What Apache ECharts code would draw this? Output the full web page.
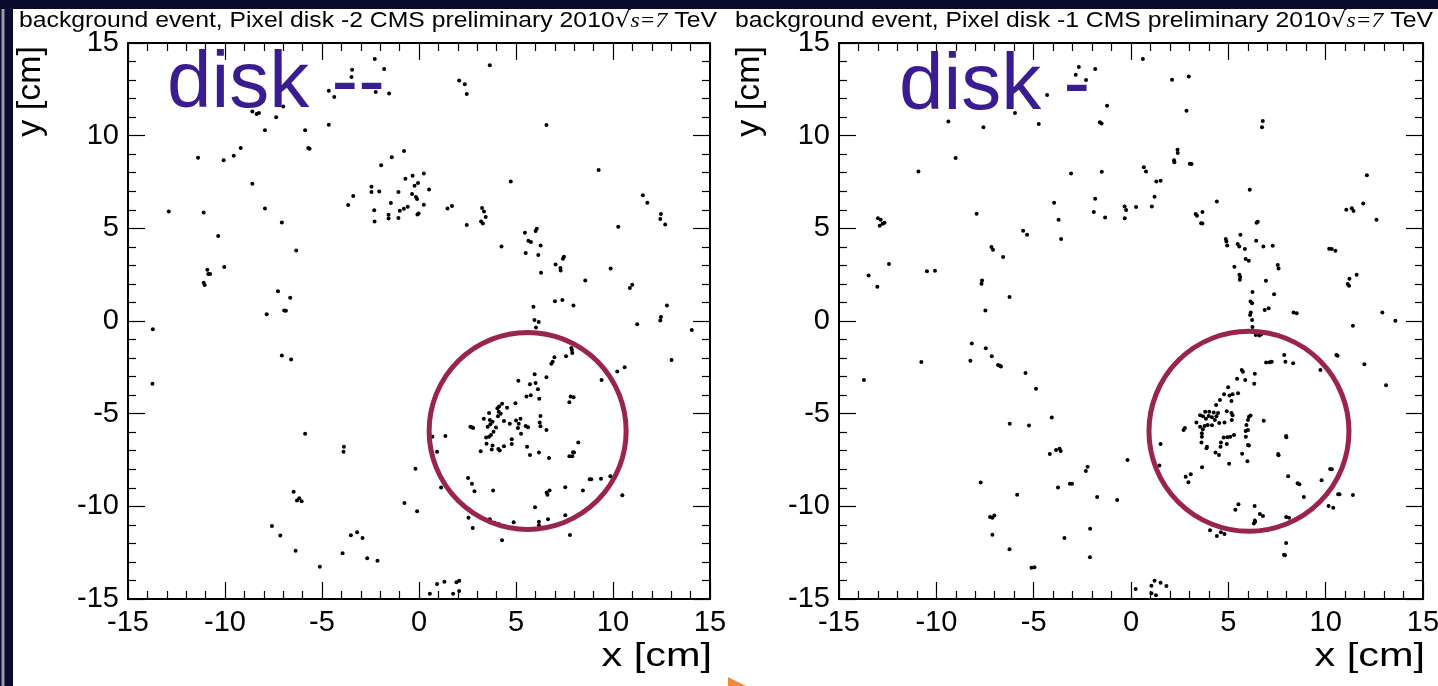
<!DOCTYPE html>
<html>
<head>
<meta charset="utf-8">
<title>Pixel disk background events</title>
<script src="https://cdn.jsdelivr.net/npm/echarts@6/dist/echarts.min.js"></script>
<style>
  html, body { margin: 0; padding: 0; background: #fff; }
  #chart { width: 1438px; height: 686px; }
</style>
</head>
<body>
<div id="chart"></div>
<script>
// hit positions [x, y] in cm
const diskM2Hits = [
  [-2.28,14.14],[-3.45,13.56],[-3.48,13.17],[-1.80,13.60],[-4.65,12.43],[-4.37,12.09],[-2.23,12.36],[-1.54,12.27],
  [-7.00,11.58],[-8.59,11.31],[-8.37,11.17],[-8.25,11.22],[-7.36,10.99],[-7.94,10.29],[-5.87,10.29],[-4.65,10.59],
  [-5.71,9.34],[-5.64,9.30],[-9.19,9.34],[-9.55,8.92],[-10.07,8.67],[-11.39,8.81],[-0.77,9.17],[-1.40,8.83],
  [-1.95,8.40],[-8.59,7.41],[-0.70,7.68],[-0.33,7.84],[-0.05,7.45],[-0.23,7.30],[-2.45,7.25],[-2.45,6.96],
  [-2.05,6.99],[-1.06,6.96],[-3.39,6.74],[-3.65,6.26],[-0.36,6.85],[-0.16,6.69],[-0.10,6.58],[-1.45,6.37],
  [-0.99,5.95],[-0.78,6.06],[-0.58,6.17],[-0.08,5.75],[-0.02,5.80],[-2.31,5.97],[-2.29,5.37],[-1.57,5.73],
  [-1.57,5.53],[-1.06,5.56],[-12.90,5.91],[-11.10,5.86],[-7.94,6.07],[-7.07,5.32],[-10.35,4.58],[-6.33,3.81],
  [-10.04,2.91],[-10.91,2.76],[-10.86,2.53],[-10.77,2.53],[-11.10,2.06],[-11.05,1.94],[-7.27,1.61],[-6.64,1.25],
  [-7.85,0.37],[-6.95,0.57],[-6.86,0.55],[-13.72,-0.44],
  [3.65,13.80],[2.07,12.97],[2.36,12.77],[2.46,12.25],[6.57,10.58],[0.25,7.96],[0.52,7.10],[0.25,6.27],
  [9.26,8.15],[4.73,7.53],[1.47,6.07],[1.70,6.20],[3.25,6.10],[3.35,5.91],[3.44,5.61],[3.20,5.37],
  [3.29,5.26],[2.46,5.18],[11.54,6.78],[11.77,6.38],[12.47,5.77],[12.44,5.50],[12.69,5.21],[10.27,5.09],
  [6.07,4.98],[6.01,4.85],[5.46,4.76],[5.64,4.33],[5.77,4.26],[6.27,4.08],[5.50,3.67],[6.15,3.56],
  [4.25,4.02],[7.47,3.47],[7.42,3.36],[7.04,3.05],[7.29,2.86],[7.30,2.73],[6.29,2.60],[9.88,2.83],
  [8.57,2.19],[10.99,1.95],[10.87,1.78],[12.78,0.84],[5.90,0.77],[7.01,1.07],[7.39,1.13],[7.96,0.84],
  [12.47,0.21],[12.44,0.03],[11.25,-0.17],[14.06,-0.49],[5.95,0.06],[6.17,-0.06],[6.03,-0.35],
  [-7.07,-1.86],[-6.59,-2.08],[-13.74,-3.38],[-5.87,-6.09],[-3.87,-6.78],[-3.89,-7.06],[-0.18,-7.97],[-6.46,-9.21],
  [-6.17,-9.56],[-6.29,-9.69],[-6.05,-9.72],[-0.75,-9.82],[-0.10,-10.27],[-7.58,-11.06],[-7.15,-11.58],[-3.51,-11.56],
  [-3.19,-11.40],[-2.91,-11.71],[-6.36,-12.39],[-3.94,-12.53],[-2.67,-12.80],[-2.14,-12.93],[-5.11,-13.26],
  [0.93,-14.19],[1.31,-14.07],[1.93,-14.10],[2.07,-14.01],[0.56,-14.72],[1.76,-14.72],[2.07,-14.57],
  [13.02,-2.10],[7.85,-1.46],[7.88,-1.56],[7.90,-1.73],[7.58,-1.90],[6.98,-1.95],[6.89,-2.20],[6.82,-2.30],
  [10.60,-2.49],[10.22,-2.73],[6.57,-3.03],[9.41,-3.19],[5.96,-2.87],[6.01,-3.35],[5.72,-3.41],[6.13,-3.68],
  [5.12,-3.23],[5.54,-4.08],[5.76,-4.00],[6.20,-4.19],[7.82,-4.08],[7.97,-4.11],[7.75,-4.38],[4.97,-4.44],
  [4.28,-4.47],[4.13,-4.62],[4.04,-4.71],[4.54,-4.68],[4.11,-4.89],[4.21,-5.01],[4.07,-5.14],[3.61,-4.97],
  [3.34,-5.27],[3.65,-5.34],[3.79,-5.43],[3.68,-5.57],[3.54,-5.70],[3.97,-5.75],[3.84,-5.97],[3.61,-6.24],
  [3.46,-6.29],[3.71,-6.15],[4.38,-5.39],[4.68,-5.55],[5.00,-5.37],[5.23,-5.28],[5.10,-5.78],[5.14,-5.55],
  [5.50,-5.66],[5.62,-5.73],[5.26,-6.09],[4.78,-6.38],[4.78,-6.63],[4.38,-6.76],[4.09,-6.90],[4.16,-6.99],
  [3.79,-6.72],[3.75,-6.94],[3.48,-6.62],[3.18,-7.03],[2.73,-5.73],[2.65,-5.70],[2.79,-5.77],
  [1.36,-6.20],[0.69,-6.25],[0.93,-7.05],[6.26,-5.12],[6.22,-5.48],[6.26,-5.68],[6.57,-5.88],[8.21,-6.56],
  [7.94,-7.08],[7.99,-7.10],[7.90,-7.30],[7.75,-7.30],[6.18,-7.10],[6.70,-7.39],[5.57,-6.78],[5.72,-7.23],
  [2.53,-8.47],[2.73,-8.78],[2.86,-9.19],[1.14,-8.99],[3.82,-9.15],[6.58,-9.26],[6.62,-9.37],[6.73,-9.15],
  [7.54,-8.97],[8.45,-9.15],[8.80,-8.54],[8.88,-8.54],[9.38,-8.51],[9.86,-8.38],[10.48,-9.40],[5.98,-10.05],
  [7.54,-10.48],[6.65,-10.70],[6.18,-10.83],[6.18,-11.02],[4.88,-10.86],[3.65,-10.70],[3.90,-10.88],[4.12,-10.97],
  [2.55,-10.61],[2.77,-11.17],[4.28,-11.83],[7.78,-11.55]
];

const diskM1Hits = [
  [-2.68,13.71],[-2.84,13.29],[-2.31,13.01],[-1.84,13.60],[-4.31,12.20],[-1.23,11.62],[-5.96,11.22],[-9.38,10.76],
  [-7.58,10.45],[-4.74,10.63],[-1.60,10.72],[-1.51,10.65],[-9.01,8.80],[-10.92,8.07],[-3.08,7.96],[-1.50,8.05],
  [-3.95,6.38],[-1.84,6.60],[-1.91,5.88],[-1.33,5.59],[-0.33,6.18],[-0.25,5.99],[-0.32,5.55],[-3.72,5.46],
  [-3.59,4.42],[-7.93,5.79],[-5.54,4.87],[-5.34,4.65],[-13.00,5.55],[-12.86,5.46],[-12.76,5.25],[-12.66,5.30],
  [-12.91,5.14],[-7.17,3.99],[-7.09,3.84],[-6.57,3.45],[-12.43,3.07],[-13.48,2.46],[-13.03,1.85],[-10.48,2.69],
  [-10.07,2.71],[-7.65,2.19],[-7.68,2.01],[-6.24,1.29],[-7.48,0.57],
  [0.61,14.14],[2.11,13.02],[2.97,13.19],[2.85,11.35],[6.77,10.79],[6.73,10.45],[2.39,9.24],[2.40,9.06],
  [2.21,8.67],[2.23,8.56],[3.02,8.49],[3.11,8.47],[0.66,8.29],[0.77,8.06],[1.30,7.53],[1.52,7.57],
  [1.21,6.71],[0.26,6.15],[1.07,6.18],[4.41,6.45],[6.10,7.08],[3.32,5.77],[3.39,5.68],[3.67,5.88],
  [3.60,5.28],[3.67,5.26],[6.45,5.30],[6.51,5.36],[5.62,4.65],[4.87,4.42],[4.90,4.29],[4.94,4.08],
  [5.48,4.15],[5.56,4.02],[5.85,3.88],[6.43,4.33],[6.80,4.02],[7.28,4.06],[5.89,3.34],[6.05,3.25],
  [5.31,2.93],[7.54,3.02],[7.58,2.83],[5.57,2.49],[5.61,2.37],[5.59,2.22],[6.93,2.17],[6.24,1.56],
  [7.35,1.45],[6.14,1.05],[6.22,0.96],[6.87,0.60],[7.07,0.69],[6.15,0.46],[6.12,0.32],[6.22,0.06],
  [6.24,-0.33],[6.41,-0.75],[6.59,-0.78],[6.68,-0.73],[8.35,0.46],[8.51,0.42],[10.18,3.90],[10.31,3.88],
  [10.50,3.79],[11.06,6.00],[11.34,6.09],[11.43,5.93],[11.93,6.34],[12.61,5.46],[12.12,7.86],[11.22,2.28],
  [11.13,1.99],[11.20,1.90],[11.59,2.49],[12.91,0.46],[13.58,0.01],[11.40,-0.26],
  [-13.72,-3.18],[-10.77,-2.21],[-8.18,-1.22],[-8.25,-2.15],[-7.46,-1.47],[-7.15,-1.90],[-6.83,-2.37],[-6.74,-2.42],
  [-6.68,-2.46],[-5.42,-2.80],[-4.88,-3.65],[-4.07,-5.21],[-6.23,-5.55],[-5.24,-5.64],[-4.17,-7.17],[-3.85,-6.96],
  [-3.67,-6.89],[-3.61,-7.01],[-2.23,-7.86],[-2.32,-8.09],[-0.18,-7.50],[-3.14,-8.78],[-3.03,-8.78],[-3.75,-8.99],
  [-7.72,-8.72],[-5.85,-9.37],[-1.74,-9.49],[-0.71,-9.66],[-7.24,-10.58],[-7.12,-10.61],[-7.02,-10.50],[-7.12,-11.53],
  [-2.10,-11.21],[-3.42,-11.71],[-6.24,-12.32],[-2.11,-12.75],[-5.11,-13.31],[-4.96,-13.29],
  [1.21,-14.01],[1.52,-14.12],[1.82,-14.30],[1.05,-14.28],[0.24,-14.46],[1.05,-14.69],[1.28,-14.80],
  [10.55,-1.84],[10.61,-1.88],[11.99,-2.33],[13.10,-3.46],[7.87,-1.84],[7.93,-2.20],[8.33,-2.28],[6.94,-2.24],
  [7.12,-2.22],[7.23,-2.20],[9.73,-2.64],[5.69,-2.64],[5.75,-2.74],[6.36,-2.85],[5.45,-3.11],[5.87,-3.18],
  [6.33,-3.38],[4.99,-3.57],[4.78,-3.95],[5.22,-3.95],[5.06,-4.02],[5.50,-3.90],[4.57,-4.26],[4.37,-4.53],
  [5.16,-4.31],
  [3.81,-4.89],[4.02,-4.89],[4.25,-4.94],[4.47,-4.97],[3.55,-5.08],[3.70,-5.14],[3.99,-5.12],[4.16,-5.19],
  [4.39,-5.14],[3.85,-5.28],[4.31,-5.34],[3.36,-5.48],[3.55,-5.70],[3.78,-5.66],[3.69,-5.84],[3.94,-5.61],
  [4.16,-5.62],[4.53,-5.51],[4.80,-5.48],[4.92,-4.87],[5.16,-4.97],[5.22,-5.08],[2.77,-5.78],[2.70,-5.88],
  [3.64,-6.05],[3.64,-6.24],[3.62,-6.56],[3.90,-6.78],[3.88,-6.86],[4.34,-7.10],[4.52,-7.23],[4.62,-6.56],
  [4.76,-6.29],[4.95,-6.27],[4.92,-6.63],[4.60,-6.78],[5.10,-6.24],[5.29,-6.15],[5.18,-5.34],[3.65,-7.89],
  [2.81,-8.40],[3.07,-8.27],[2.95,-8.70],
  [6.06,-5.16],[6.14,-5.10],[6.01,-5.34],[5.93,-5.61],[5.89,-5.93],[6.01,-5.88],[5.90,-6.24],[6.01,-6.69],
  [6.06,-6.72],[5.71,-7.16],[5.98,-7.57],[5.04,-7.70],[6.82,-5.38],[7.97,-6.20],[7.98,-6.27],[7.56,-7.17],
  [7.58,-7.24],[1.52,-6.63],[1.46,-7.80],[10.23,-7.98],[10.32,-8.00],[9.79,-8.59],[8.07,-8.38],[8.56,-8.75],
  [8.65,-8.81],[8.88,-9.49],[10.64,-9.35],[10.71,-9.35],[11.40,-9.39],[10.15,-9.98],[10.39,-10.07],[5.52,-9.89],
  [5.36,-10.18],[6.35,-9.98],[6.62,-10.41],[6.78,-10.52],[6.36,-10.77],[6.31,-10.92],[6.38,-10.83],[7.97,-10.57],
  [8.12,-10.61],[4.06,-11.29],[4.62,-11.40],[4.80,-11.49],[4.41,-11.60],[7.97,-11.98],[7.86,-12.61],[7.91,-12.64]
];

// centre of the highlighted region, cm
const diskM2Ring = [[5.6, -5.93]];
const diskM1Ring = [[6.06, -5.95]];

const axisMin = -15;
const axisMax = 15;
const tickStep = 5;

const panelTitles = [
  'background event, Pixel disk -2 CMS preliminary 2010',
  'background event, Pixel disk -1 CMS preliminary 2010'
];
const diskLabels = ['disk --', 'disk -'];

const FONT = '"Liberation Sans", Arial, Helvetica, sans-serif';
const NAVY = '#0b0b30';
const RING = '#9b2350';
const LABEL_PURPLE = '#3a1c90';

const chart = echarts.init(document.getElementById('chart'), null, { renderer: 'canvas' });

const grids = [
  { left: 128, top: 43, width: 582, height: 556 },
  { left: 839, top: 43, width: 584, height: 556 }
];

function axis(gridIndex, position, withLabels) {
  return {
    type: 'value',
    gridIndex,
    position,
    min: axisMin,
    max: axisMax,
    interval: tickStep,
    axisLine: { show: true, onZero: false, lineStyle: { color: '#000', width: 2 } },
    axisTick: { show: true, inside: true, length: 17, lineStyle: { color: '#000', width: 1.2 } },
    minorTick: { show: true, splitNumber: 5, length: 8, lineStyle: { color: '#000', width: 1.2 } },
    splitLine: { show: false },
    axisLabel: {
      show: withLabels,
      showMinLabel: true,
      showMaxLabel: true,
      fontSize: 29,
      fontFamily: FONT,
      color: '#000',
      margin: 9
    }
  };
}

const xAxes = [];
const yAxes = [];
grids.forEach((g, i) => {
  xAxes.push(axis(i, 'bottom', true), axis(i, 'top', false));
  yAxes.push(axis(i, 'left', true), axis(i, 'right', false));
});

function hits(data, i) {
  return {
    type: 'scatter',
    xAxisIndex: i * 2,
    yAxisIndex: i * 2,
    data,
    symbol: 'circle',
    symbolSize: 4,
    itemStyle: { color: '#000', opacity: 1 },
    silent: true,
    z: 2
  };
}

function ring(data, i, size) {
  return {
    type: 'scatter',
    xAxisIndex: i * 2,
    yAxisIndex: i * 2,
    data,
    symbol: 'circle',
    symbolSize: size,
    itemStyle: { color: 'rgba(0,0,0,0)', borderColor: RING, borderWidth: 5, opacity: 1 },
    silent: true,
    z: 3
  };
}

function titleText(text, x, y) {
  return {
    type: 'text',
    x, y,
    scaleX: 1.125,
    style: {
      text: '{a|' + text + '}{b|√}{c|s=7}{a| TeV}',
      rich: {
        a: { fontSize: 22, fontFamily: FONT, fill: '#000' },
        b: { fontSize: 22, fontFamily: '"DejaVu Serif", serif', fill: '#000' },
        c: { fontSize: 21, fontFamily: '"Liberation Serif", "Times New Roman", serif', fontStyle: 'italic', fill: '#000' }
      },
      verticalAlign: 'middle'
    },
    z: 10
  };
}

function axisTitle(x, y, rotated) {
  return {
    type: 'text',
    x, y,
    rotation: rotated ? Math.PI / 2 : 0,
    scaleX: rotated ? 1 : 1.22,
    style: {
      text: rotated ? 'y [cm]' : 'x [cm]',
      fontSize: 34,
      fontFamily: FONT,
      fill: '#000',
      align: 'right',
      verticalAlign: 'middle'
    },
    z: 10
  };
}

const option = {
  animation: false,
  backgroundColor: '#fff',
  grid: grids.map(g => Object.assign({ containLabel: false, outerBoundsMode: 'none' }, g)),
  xAxis: xAxes,
  yAxis: yAxes,
  series: [
    hits(diskM2Hits, 0),
    ring(diskM2Ring, 0, 197),
    hits(diskM1Hits, 1),
    ring(diskM1Ring, 1, 200)
  ],
  graphic: [
    // slide frame
    { type: 'rect', shape: { x: 0, y: 0, width: 1438, height: 9 }, style: { fill: NAVY }, z: 20 },
    { type: 'rect', shape: { x: 0, y: 0, width: 13, height: 686 }, style: { fill: NAVY }, z: 20 },
    { type: 'rect', shape: { x: 1.5, y: 9, width: 3, height: 677 }, style: { fill: '#9a9aa8' }, z: 21 },
    titleText(panelTitles[0], 19, 21),
    titleText(panelTitles[1], 735, 21),
    {
      type: 'text', x: 167, y: 85,
      style: { text: diskLabels[0], fontSize: 80, fontFamily: FONT, fill: LABEL_PURPLE, verticalAlign: 'middle' },
      z: 10
    },
    {
      type: 'text', x: 899, y: 87,
      style: { text: diskLabels[1], fontSize: 80, fontFamily: FONT, fill: LABEL_PURPLE, verticalAlign: 'middle' },
      z: 10
    },
    axisTitle(31, 46, true),
    axisTitle(750, 46, true),
    axisTitle(712, 657, false),
    axisTitle(1425, 657, false),
    // slide arrow corner
    {
      type: 'polygon',
      shape: { points: [[728, 677], [746, 686], [728, 686]] },
      style: { fill: '#f08a3a' },
      z: 10
    }
  ]
};

chart.setOption(option);
window.addEventListener('resize', () => chart.resize());
</script>
</body>
</html>
